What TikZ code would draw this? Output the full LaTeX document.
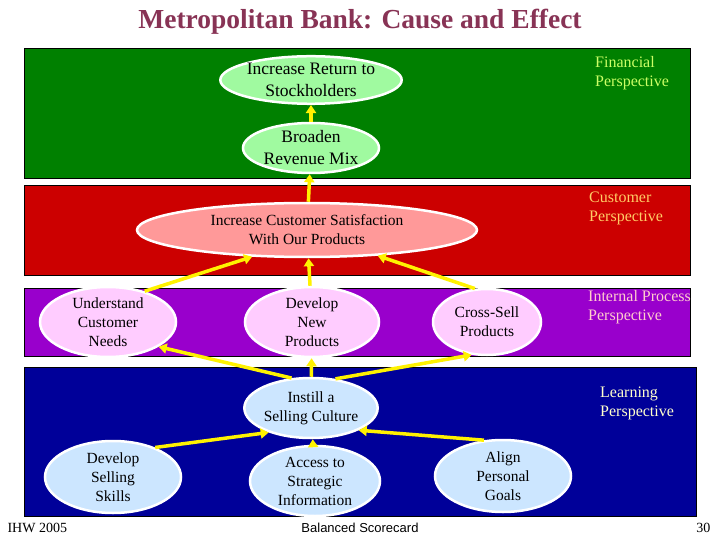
\documentclass[tikz,border=0pt]{standalone}
\usepackage{fontspec}
\setmainfont{Liberation Serif}
\newfontfamily\footsans{Liberation Sans}
\usepackage{tikz}
\usetikzlibrary{shapes,arrows.meta,positioning,calc}

\definecolor{finband}{RGB}{0,128,0}
\definecolor{cusband}{RGB}{204,0,0}
\definecolor{intband}{RGB}{153,0,204}
\definecolor{lrnband}{RGB}{0,0,153}
\definecolor{finfill}{RGB}{160,250,160}
\definecolor{cusfill}{RGB}{255,153,153}
\definecolor{intfill}{RGB}{255,204,255}
\definecolor{lrnfill}{RGB}{204,230,255}
\definecolor{titlered}{RGB}{136,51,85}

\begin{document}
\begin{tikzpicture}[x=1pt, y=-1pt,
        band/.style={draw=black, line width=0.8pt},
        goal/.style={ellipse, draw=white, line width=2.5pt, inner sep=0pt, align=center, font=\fontsize{15.5}{19}\selectfont},
        persp/.style={anchor=north west, align=left, inner sep=0pt, font=\fontsize{16}{19}\selectfont},
        flow/.style={-{Triangle[length=8pt,width=10pt]}, draw=yellow, line width=3.5pt}]

        \fill[white] (0,0) rectangle (720,540);
        \useasboundingbox (0,0) rectangle (720,540);

        \node[font=\fontsize{27.5}{30}\selectfont\bfseries, text=titlered] (title) at (360,22) {Metropolitan Bank: Cause and Effect};

        % perspective bands
        \filldraw[band, fill=finband] (24,48) rectangle (690,178);
        \filldraw[band, fill=cusband] (24,185) rectangle (690,275);
        \filldraw[band, fill=intband] (24,288) rectangle (690,356);
        \filldraw[band, fill=lrnband] (24,367) rectangle (696,516);

        \node[persp, text={rgb,255:red,204;green,255;blue,102}] (finlabel) at (595,56) {Financial\\Perspective};
        \node[persp, text={rgb,255:red,255;green,204;blue,102}] (cuslabel) at (589,192) {Customer\\Perspective};
        \node[persp, text={rgb,255:red,255;green,204;blue,204}] (intlabel) at (588,290) {Internal Process\\Perspective};
        \node[persp, text={rgb,255:red,255;green,255;blue,204}] (lrnlabel) at (600,387) {Learning\\Perspective};

        % goals
        \node[goal, fill=finfill, minimum width=142pt, minimum height=46pt, font=\fontsize{17.5}{22}\selectfont] (ret) at (311,80) {Increase Return to\\Stockholders};
        \node[goal, fill=finfill, minimum width=136pt, minimum height=50pt, font=\fontsize{17.5}{22}\selectfont] (mix) at (311,148) {Broaden\\Revenue Mix};
        \node[goal, fill=cusfill, minimum width=340pt, minimum height=54pt] (sat) at (307,230) {Increase Customer Satisfaction\\With Our Products};
        \node[goal, fill=intfill, minimum width=136pt, minimum height=70pt] (needs) at (108,322) {Understand\\Customer\\Needs};
        \node[goal, fill=intfill, minimum width=134pt, minimum height=70pt] (newprod) at (312,322) {Develop\\New\\Products};
        \node[goal, fill=intfill, minimum width=108pt, minimum height=66pt] (xsell) at (487,322) {Cross-Sell\\Products};
        \node[goal, fill=lrnfill, minimum width=112pt, minimum height=60pt] (culture) at (311,408) {Instill a\\Selling Culture};
        \node[goal, fill=lrnfill, minimum width=136pt, minimum height=72pt] (skills) at (113,477) {Develop\\Selling\\Skills};
        \node[goal, fill=lrnfill, minimum width=130pt, minimum height=70pt] (info) at (315,481) {Access to\\Strategic\\Information};
        \node[goal, fill=lrnfill, minimum width=136pt, minimum height=72pt] (align) at (503,476) {Align\\Personal\\Goals};

        % cause and effect links
        \draw[flow] (mix) -- (ret);
        \draw[flow] (sat) -- (mix);
        \draw[flow] (needs.40) -- (sat.206);
        \draw[flow] (newprod) -- (sat);
        \draw[flow] (xsell.110) -- (sat.340);
        \draw[flow] (culture.123) -- (needs.334);
        \draw[flow] (culture) -- (newprod);
        \draw[flow] (culture.50) -- (xsell.245);
        \draw[flow] (skills.35) -- (culture.210);
        \draw[flow] (info) -- (culture);
        \draw[flow] (align.118) -- (culture.335);

        % footer
        \node[font=\fontsize{14}{16}\selectfont, anchor=west] (org) at (4,528) {IHW 2005};
        \node[font=\footsans\fontsize{13}{16}\selectfont] (course) at (360,528) {Balanced Scorecard};
        \node[font=\fontsize{14}{16}\selectfont, anchor=east] (page) at (714,528) {30};
    \end{tikzpicture}
\end{document}
